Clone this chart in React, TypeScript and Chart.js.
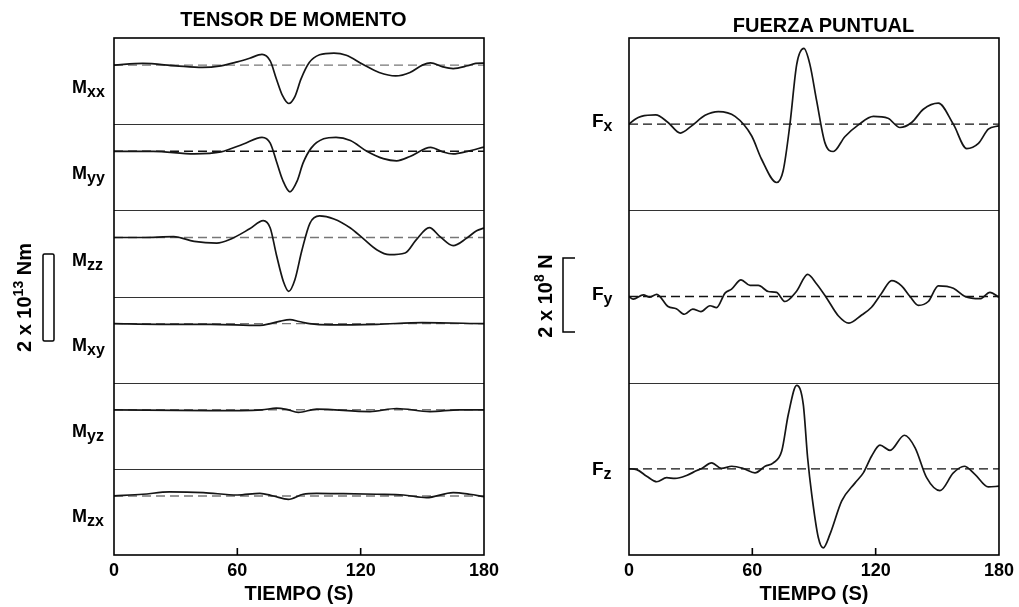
import React, { useEffect, useRef } from "react";
import { Chart, registerables } from "chart.js";

Chart.register(...registerables);

// ---------------- data ----------------
// time axis (s)
const X_MIN = 0;
const X_MAX = 180;
const X_STEP = 60;
const INNER_TICKS = [60, 120];

// Moment tensor components, units of 1e13 N·m
const MXX_T = [0, 14, 30, 43, 52, 60, 66, 72, 76, 79, 82, 85, 88, 91, 95, 100, 107, 113, 121, 129, 137, 144, 150, 154, 160, 165, 172, 176, 180];
const MXX_V = [0, 0.04, -0.015, -0.054, -0.015, 0.077, 0.16, 0.25, 0.1, -0.32, -0.71, -0.89, -0.73, -0.32, 0.06, 0.24, 0.28, 0.23, 0.02, -0.17, -0.25, -0.17, 0, 0.054, -0.04, -0.08, -0.015, 0.04, 0.046];

const MYY_T = [0, 19, 39, 52, 63, 72, 76, 79, 82, 85.6, 89, 92, 96, 102, 108, 115, 123, 131, 137.5, 144, 154, 160, 165, 172, 180];
const MYY_V = [0, 0, -0.06, -0.015, 0.17, 0.325, 0.19, -0.23, -0.66, -0.94, -0.7, -0.27, 0.08, 0.29, 0.325, 0.25, 0, -0.17, -0.22, -0.12, 0.093, -0.015, -0.06, 0, 0.1];

const MZZ_T = [0, 14, 29, 39, 50, 56, 66, 72.6, 76, 79, 82.4, 85, 88, 91.3, 95.3, 100, 107, 115, 121, 128, 134, 141.6, 147, 153.4, 158.6, 165, 171.6, 176.4, 180];
const MZZ_V = [0, 0, 0.02, -0.09, -0.13, -0.054, 0.2, 0.39, 0.22, -0.4, -1.02, -1.25, -0.98, -0.32, 0.33, 0.5, 0.43, 0.22, -0.015, -0.29, -0.4, -0.36, -0.054, 0.23, 0.02, -0.19, -0.015, 0.155, 0.22];

const MXY_T = [0, 22, 47, 71, 76, 81, 85.6, 90, 95, 105, 128, 150, 180];
const MXY_V = [0, -0.015, -0.015, -0.04, 0, 0.06, 0.093, 0.05, 0, -0.03, -0.015, 0.023, 0];

const MYZ_T = [0, 47, 72, 79, 84, 89.7, 98.6, 124.5, 137.5, 153.7, 168, 180];
const MYZ_V = [0, -0.02, 0, 0.04, 0.01, -0.06, 0.015, -0.04, 0.03, -0.04, 0, 0];

const MZX_T = [0, 14, 27, 43.5, 60, 71, 77.5, 84.8, 92, 98.6, 111.6, 127.8, 140.8, 152, 165, 173, 180];
const MZX_V = [0, 0.04, 0.093, 0.077, 0.023, 0.062, 0, -0.077, 0.04, 0.062, 0.054, 0.04, 0.023, -0.04, 0.077, 0.04, -0.015];

// Point force components, units of 1e8 N
const FX_T = [0, 3, 6, 13, 19, 25, 30.5, 37, 43.5, 51.6, 59.7, 64.5, 71.8, 75, 78.3, 81.6, 85.1, 88, 91.3, 95.3, 99.4, 105, 111.6, 118.9, 126, 131.8, 137.5, 143.2, 150.5, 157.8, 164.3, 170, 174.8, 180];
const FX_V = [0, 0.135, 0.21, 0.25, 0.045, -0.24, -0.045, 0.24, 0.34, 0.21, -0.32, -0.95, -1.58, -1.26, 0, 1.62, 2.05, 1.62, 0.63, -0.5, -0.74, -0.34, -0.02, 0.21, 0.16, -0.09, 0.045, 0.405, 0.57, 0, -0.66, -0.52, -0.135, -0.045];

const FY_T = [0, 2, 7, 10, 13.5, 19, 23, 27, 31, 35, 39.4, 42.6, 46.7, 49.9, 54.5, 58.9, 62.9, 67.8, 71.8, 75.9, 81.6, 86.9, 91.3, 96.2, 101.8, 107, 113.2, 118, 122.9, 127.8, 132.6, 136.7, 140.8, 145.6, 150.5, 157.8, 163.5, 170.8, 175.6, 180];
const FY_V = [0, -0.07, 0.045, -0.02, 0.06, -0.27, -0.33, -0.48, -0.34, -0.41, -0.25, -0.3, 0.09, 0.2, 0.45, 0.3, 0.3, 0.135, 0.11, -0.135, 0.15, 0.6, 0.34, -0.045, -0.52, -0.72, -0.5, -0.29, 0.09, 0.43, 0.29, 0, -0.24, -0.135, 0.29, 0.225, 0, -0.06, 0.11, -0.02];

const FZ_T = [0, 3.7, 8.6, 13.5, 18.3, 22.4, 28, 33, 35.4, 40.2, 45, 50, 55.6, 61.3, 66.2, 70.2, 74.3, 77.5, 81.6, 84.8, 86.9, 88.9, 92.1, 94.5, 97.8, 103.5, 110, 114, 118, 122.1, 127, 134, 139.2, 144.8, 151.3, 157.8, 163.1, 168.3, 174.8, 180];
const FZ_V = [0, -0.02, -0.2, -0.35, -0.24, -0.26, -0.18, -0.045, 0.01, 0.16, 0.01, 0.07, 0.01, -0.11, 0.07, 0.16, 0.48, 1.47, 2.26, 1.74, 0.3, -0.69, -1.86, -2.14, -1.77, -0.87, -0.38, -0.11, 0.34, 0.64, 0.5, 0.91, 0.57, -0.24, -0.59, -0.11, 0.07, -0.15, -0.49, -0.47];

// labels
const LEFT_TITLE = "TENSOR DE MOMENTO";
const RIGHT_TITLE = "FUERZA PUNTUAL";
const X_TITLE = "TIEMPO (S)";
const LEFT_SUBS = ["xx", "yy", "zz", "xy", "yz", "zx"];
const RIGHT_SUBS = ["x", "y", "z"];

// ---------------- layout / style ----------------
const LEFT_SERIES = [
  [MXX_T, MXX_V], [MYY_T, MYY_V], [MZZ_T, MZZ_V],
  [MXY_T, MXY_V], [MYZ_T, MYZ_V], [MZX_T, MZX_V],
];
const RIGHT_SERIES = [[FX_T, FX_V], [FY_T, FY_V], [FZ_T, FZ_V]];
const LEFT_DASH_COLORS = ["#777", "#111", "#777", "#777", "#777", "#777"];
const RIGHT_DASH_COLORS = ["#111", "#111", "#111"];

const FONT = "'Liberation Sans', Arial, Helvetica, sans-serif";

function makePanelPlugin(boundaries: number[]) {
  return {
    id: "panels",
    afterDatasetsDraw(chart: any) {
      const { ctx, chartArea: a, scales } = chart;
      const ys = scales.y;
      const xs = scales.x;
      ctx.save();
      ctx.strokeStyle = "#333";
      ctx.lineWidth = 1;
      for (const b of boundaries) {
        const py = Math.round(ys.getPixelForValue(b)) + 0.5;
        ctx.beginPath();
        ctx.moveTo(a.left, py);
        ctx.lineTo(a.right, py);
        ctx.stroke();
      }
      ctx.strokeStyle = "#000";
      ctx.lineWidth = 1.6;
      for (const t of INNER_TICKS) {
        const px = xs.getPixelForValue(t);
        ctx.beginPath();
        ctx.moveTo(px, a.bottom);
        ctx.lineTo(px, a.bottom - 7);
        ctx.stroke();
      }
      ctx.strokeRect(a.left, a.top, a.right - a.left, a.bottom - a.top);
      ctx.restore();
    },
  };
}

type PanelProps = {
  left: number;
  width: number;
  series: number[][][];
  dashColors: string[];
  span: number;
  baseFromTop: number;
  padLeft: number;
  padRight: number;
};

function TracePanel(p: PanelProps) {
  const ref = useRef<HTMLCanvasElement>(null);
  useEffect(() => {
    const n = p.series.length;
    const datasets: any[] = [];
    const boundaries: number[] = [];
    p.series.forEach(([ts, vs], i) => {
      const base = -i * p.span - p.baseFromTop;
      datasets.push({
        data: ts.map((t, k) => ({ x: t, y: vs[k] + base })),
        borderColor: "#151515",
        borderWidth: 1.7,
        pointRadius: 0,
        cubicInterpolationMode: "monotone",
        order: 0,
      });
      datasets.push({
        data: [{ x: X_MIN, y: base }, { x: X_MAX, y: base }],
        borderColor: p.dashColors[i],
        borderWidth: 1.4,
        borderDash: [9, 5],
        pointRadius: 0,
        order: 1,
      });
      if (i > 0) boundaries.push(-i * p.span);
    });
    const chart = new Chart(ref.current as HTMLCanvasElement, {
      type: "line",
      data: { datasets },
      options: {
        animation: false,
        responsive: false,
        events: [],
        layout: { padding: { left: p.padLeft, right: p.padRight, top: 38, bottom: 0 } },
        plugins: { legend: { display: false }, tooltip: { enabled: false }, title: { display: false } },
        scales: {
          x: {
            type: "linear",
            min: X_MIN,
            max: X_MAX,
            ticks: {
              stepSize: X_STEP,
              color: "#000",
              font: { family: FONT, size: 18, weight: "bold" },
              padding: 5,
              maxRotation: 0,
              autoSkip: false,
            },
            grid: { display: false, drawTicks: false },
            border: { display: false },
            title: {
              display: true,
              text: X_TITLE,
              color: "#000",
              font: { family: FONT, size: 20, weight: "bold" },
              padding: { top: 0, bottom: 1 },
            },
            afterFit: (s: any) => {
              s.height = 52;
            },
          },
          y: { type: "linear", display: false, min: -n * p.span, max: 0 },
        },
      } as any,
      plugins: [makePanelPlugin(boundaries)],
    });
    return () => chart.destroy();
  }, []);
  return (
    <canvas
      ref={ref}
      width={p.width}
      height={607}
      style={{ position: "absolute", left: p.left, top: 0, width: p.width, height: 607 }}
    />
  );
}

const LEFT_LABEL_BASELINES = [93, 179, 265.5, 351, 437, 522];
const RIGHT_LABEL_BASELINES = [127, 300, 475];

export default function App() {
  return (
    <div style={{ position: "fixed", left: 0, top: 0, width: 1019, height: 607, background: "#fff", overflow: "hidden" }}>
      <TracePanel left={0} width={510} series={LEFT_SERIES} dashColors={LEFT_DASH_COLORS} span={2} baseFromTop={0.63} padLeft={114} padRight={26} />
      <TracePanel left={510} width={509} series={RIGHT_SERIES} dashColors={RIGHT_DASH_COLORS} span={14 / 3} baseFromTop={7 / 3} padLeft={119} padRight={20} />
      <svg
        width={1019}
        height={607}
        style={{ position: "absolute", left: 0, top: 0, pointerEvents: "none" }}
        fontFamily={FONT}
        fontWeight="bold"
        fill="#000"
      >
        <text x={293.5} y={26} fontSize={20} textAnchor="middle">{LEFT_TITLE}</text>
        <text x={823.5} y={31.5} fontSize={20} textAnchor="middle">{RIGHT_TITLE}</text>
        {LEFT_SUBS.map((s, i) => (
          <text key={s} x={72} y={LEFT_LABEL_BASELINES[i]} fontSize={18}>
            M<tspan fontSize={16} dy={4}>{s}</tspan>
          </text>
        ))}
        {RIGHT_SUBS.map((s, i) => (
          <text key={s} x={592} y={RIGHT_LABEL_BASELINES[i]} fontSize={19}>
            F<tspan fontSize={16} dy={4}>{s}</tspan>
          </text>
        ))}
        <rect x={43} y={254} width={11} height={87} rx={1.5} fill="none" stroke="#000" strokeWidth={1.5} />
        <text transform="translate(31,297.5) rotate(-90)" fontSize={20} textAnchor="middle">
          2 x 10<tspan fontSize={14} dy={-8}>13</tspan><tspan dy={8}> Nm</tspan>
        </text>
        <path d="M575,258 H563 V332 H575" fill="none" stroke="#000" strokeWidth={1.5} />
        <text transform="translate(552,296) rotate(-90)" fontSize={20} textAnchor="middle">
          2 x 10<tspan fontSize={14} dy={-8}>8</tspan><tspan dy={8}> N</tspan>
        </text>
      </svg>
    </div>
  );
}
